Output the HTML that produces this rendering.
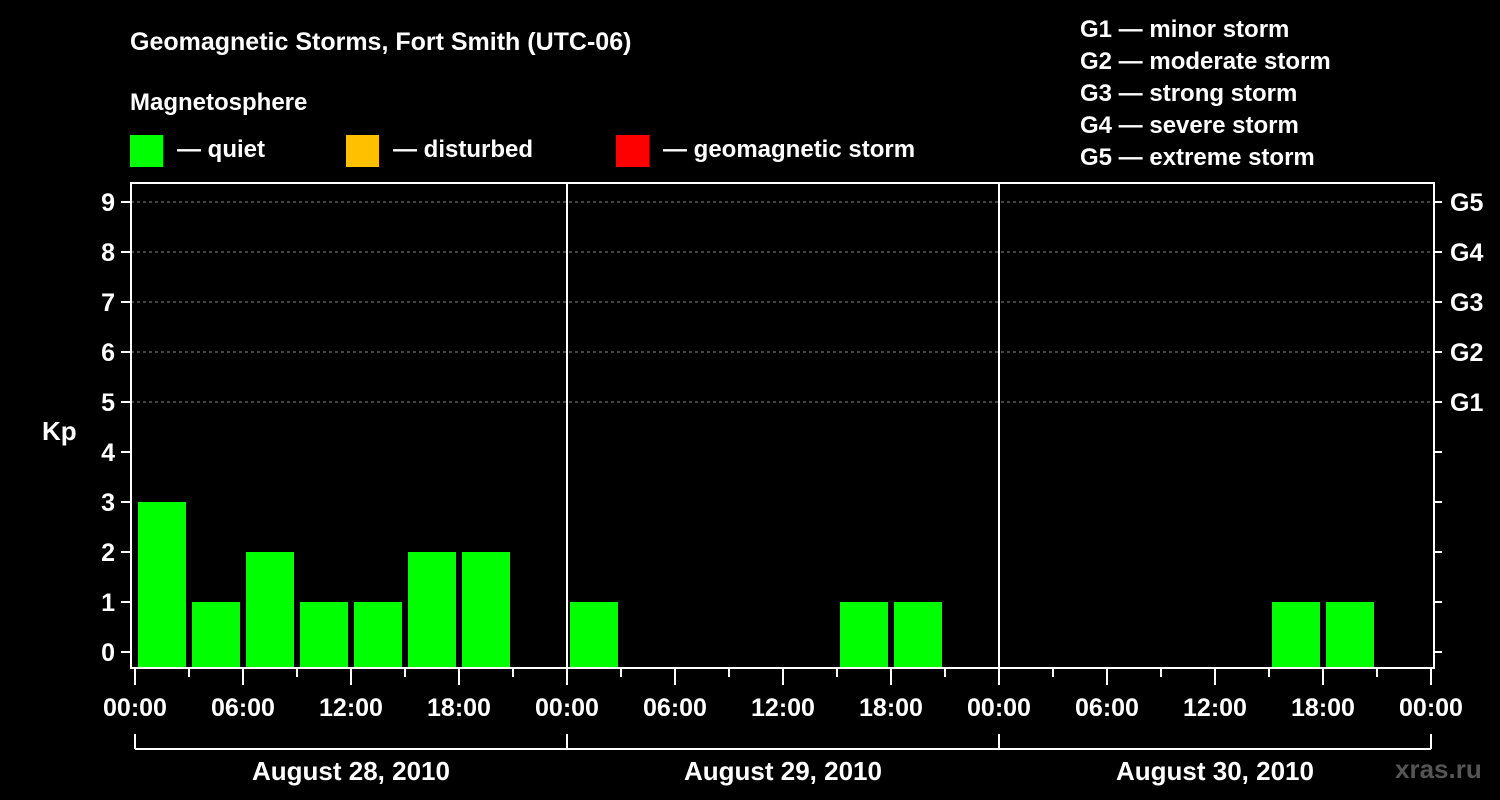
<!DOCTYPE html>
<html><head><meta charset="utf-8"><style>
body{margin:0;background:#000;}
svg{display:block;font-family:"Liberation Sans",sans-serif;font-weight:bold;}
</style></head><body>
<svg id="chart" width="1500" height="800">
<rect width="1500" height="800" fill="#000"/>
<text x="130" y="50" fill="#fff" font-size="25">Geomagnetic Storms, Fort Smith (UTC-06)</text>
<text x="130" y="110" fill="#fff" font-size="24">Magnetosphere</text>
<g><rect x="130" y="135" width="33" height="32" fill="#00ff00"/><text x="177" y="157" fill="#fff" font-size="24">— quiet</text></g>
<g><rect x="346" y="135" width="33" height="32" fill="#ffc000"/><text x="393" y="157" fill="#fff" font-size="24">— disturbed</text></g>
<g><rect x="616" y="135" width="33" height="32" fill="#ff0000"/><text x="663" y="157" fill="#fff" font-size="24">— geomagnetic storm</text></g>
<g fill="#fff" font-size="24">
<text x="1080" y="37">G1 — minor storm</text>
<text x="1080" y="69">G2 — moderate storm</text>
<text x="1080" y="101">G3 — strong storm</text>
<text x="1080" y="133">G4 — severe storm</text>
<text x="1080" y="165">G5 — extreme storm</text>
</g>
<text x="42" y="440" fill="#fff" font-size="26">Kp</text>
<text x="1395" y="778" fill="#555" font-size="26">xras.ru</text>
<g id="grid"></g><g id="bars"></g><g id="axes"></g>
</svg>
<script>
const dates=["August 28, 2010","August 29, 2010","August 30, 2010"];
const kpValues=[3,1,2,1,1,2,2,null, 1,null,null,null,null,1,1,null, null,null,null,null,null,1,1,null];
const yTicks=[0,1,2,3,4,5,6,7,8,9];
const gLabels=["","","","","","G1","G2","G3","G4","G5"];
const hourLabels=["00:00","06:00","12:00","18:00"];
const NS="http://www.w3.org/2000/svg";
const x0=135,dayW=432,slotW=54,y0=652,unit=50,plotTop=183,plotBottom=668,plotLeft=131,plotRight=1434;
const X=s=>x0+s*slotW, Y=v=>y0-v*unit;
function mk(tag,attrs,parent,text){const e=document.createElementNS(NS,tag);for(const k in attrs)e.setAttribute(k,attrs[k]);if(text!==undefined)e.textContent=text;parent.appendChild(e);return e;}
const grid=document.getElementById('grid'),bars=document.getElementById('bars'),axes=document.getElementById('axes');
yTicks.forEach(v=>{if(v>=5){const l=mk('line',{x1:plotLeft,x2:plotRight,y1:Y(v),y2:Y(v),stroke:'#888','stroke-dasharray':'3,3','stroke-width':1},grid);

}});
kpValues.forEach((v,i)=>{if(v===null)return;const r=mk('rect',{x:X(i)+3,y:Y(v),width:48,height:plotBottom-Y(v),fill:v>=5?'#ff0000':(v>=4?'#ffc000':'#00ff00')},bars);

});
const box=mk('rect',{x:plotLeft,y:plotTop,width:plotRight-plotLeft,height:plotBottom-plotTop,fill:'none',stroke:'#fff','stroke-width':2},axes);


for(let d=1;d<3;d++){const l=mk('line',{x1:x0+d*dayW,x2:x0+d*dayW,y1:plotTop,y2:plotBottom,stroke:'#fff','stroke-width':2},axes);

}
yTicks.forEach((v,i)=>{mk('line',{x1:121,x2:plotLeft,y1:Y(v),y2:Y(v),stroke:'#fff','stroke-width':2},axes);
mk('line',{x1:plotRight,x2:1442,y1:Y(v),y2:Y(v),stroke:'#fff','stroke-width':2},axes);
const t=mk('text',{x:115,y:Y(v)+9,fill:'#fff','font-size':25,'text-anchor':'end'},axes,String(v));


if(gLabels[i]){const g=mk('text',{x:1450,y:Y(v)+9,fill:'#fff','font-size':25},axes,gLabels[i]);

}});
for(let s=0;s<=24;s++){const major=s%2===0;mk('line',{x1:X(s),x2:X(s),y1:plotBottom,y2:major?685:677,stroke:'#fff','stroke-width':2},axes);}
for(let d=0;d<=3;d++){hourLabels.forEach((h,k)=>{if(d===3&&k>0)return;const t=mk('text',{x:x0+d*dayW+k*108,y:716,fill:'#fff','font-size':25,'text-anchor':'middle'},axes,h);

});}
mk('line',{x1:x0,x2:x0+3*dayW,y1:749,y2:749,stroke:'#fff','stroke-width':2},axes);
for(let d=0;d<=3;d++)mk('line',{x1:x0+d*dayW,x2:x0+d*dayW,y1:734,y2:749,stroke:'#fff','stroke-width':2},axes);
dates.forEach((dt,d)=>{const t=mk('text',{x:x0+d*dayW+dayW/2,y:780,fill:'#fff','font-size':26,'text-anchor':'middle'},axes,dt);

});
</script>
</body></html>
